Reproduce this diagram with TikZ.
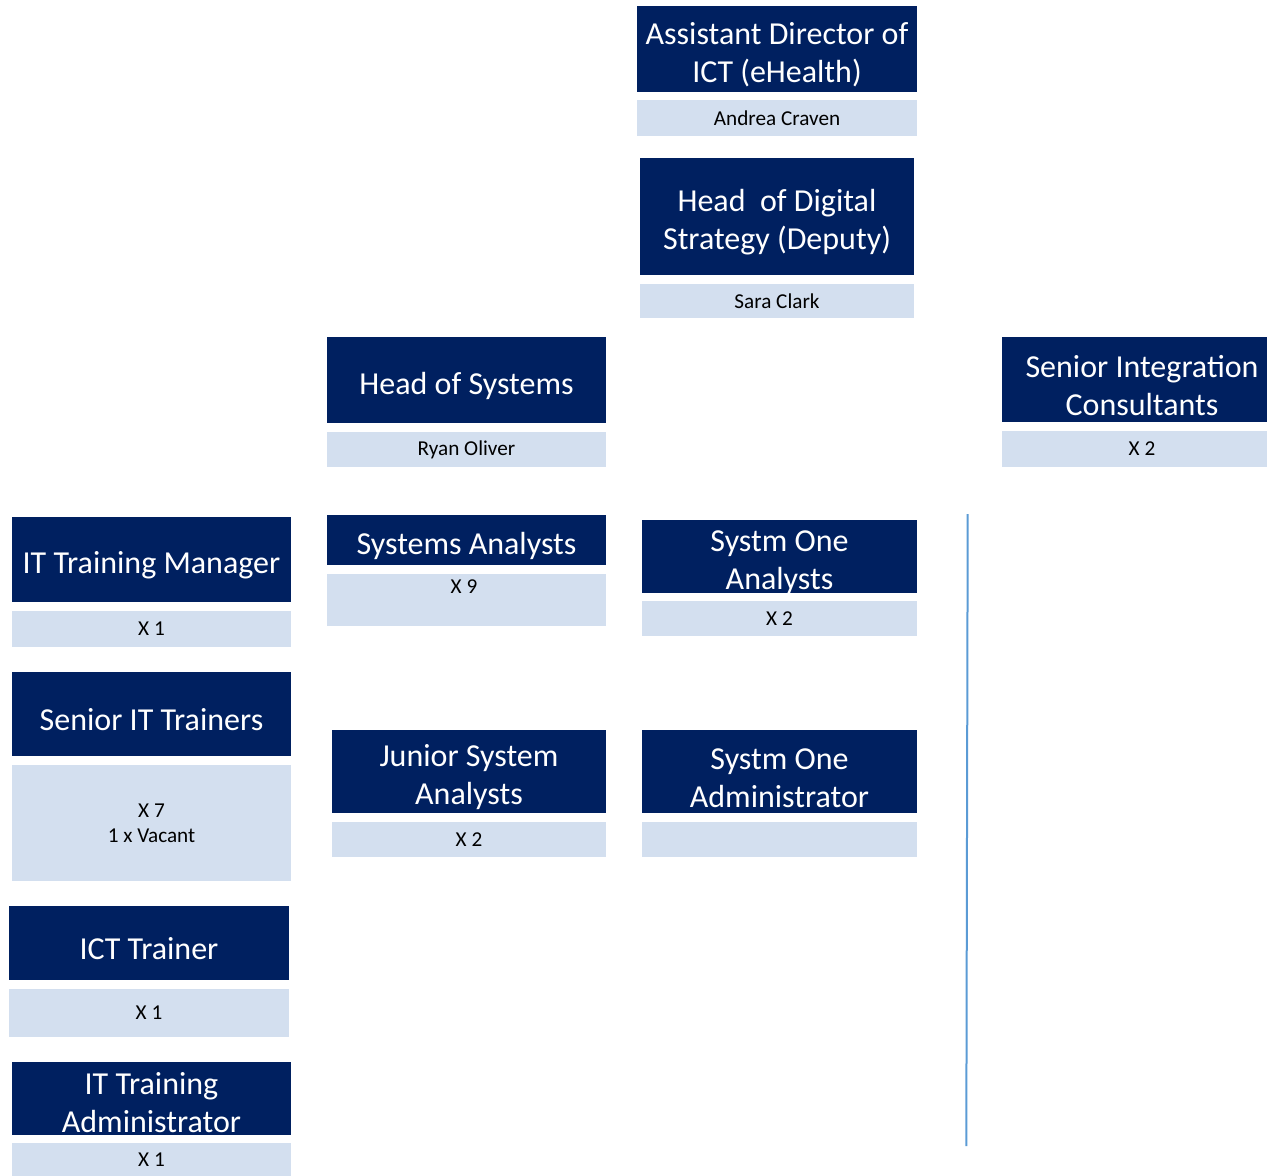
\documentclass[tikz,border=0pt]{standalone}
\usepackage{fontspec}
\setmainfont{Carlito}
\usetikzlibrary{positioning}
\definecolor{roleBlue}{RGB}{0,32,96}
\definecolor{nameBlue}{RGB}{211,223,239}
\definecolor{lineBlue}{RGB}{91,155,213}
\newcommand{\hd}[1][17pt]{\rule{0pt}{#1}}
\tikzset{
    every node/.append style={align=center},
    role/.style={rectangle,fill=roleBlue,text=white,inner sep=0pt,outer sep=0pt,
        font=\fontsize{16}{19}\selectfont},
    who/.style={rectangle,fill=nameBlue,text=black,inner sep=0pt,outer sep=0pt,
        font=\fontsize{10.6}{12.5}\selectfont},
    divider/.style={draw=lineBlue,line width=1pt}
}
\begin{document}
\begin{tikzpicture}[x=0.5pt,y=-0.5pt]
    \useasboundingbox (0,0) rectangle (1267,1176);
    % top of the tree
    \node[role,minimum width=140pt,minimum height=43pt]   (adir)  at ( 777.0,  49.0) {\hd Assistant Director of\\ICT (eHealth)};
    \node[who,minimum width=140pt,minimum height=18pt]    (adirN) at ( 777.0, 118.0) {Andrea Craven};
    \node[role,minimum width=137pt,minimum height=58.5pt] (hds)   at ( 777.0, 216.5) {\hd Head\ \ of Digital\\Strategy (Deputy)};
    \node[who,minimum width=137pt,minimum height=17pt]    (hdsN)  at ( 777.0, 301.0) {Sara Clark};
    \node[role,minimum width=139.5pt,minimum height=43pt] (hsys)  at ( 466.5, 380.0) {\hd Head of Systems};
    \node[who,minimum width=139.5pt,minimum height=17.5pt](hsysN) at ( 466.5, 449.5) {Ryan Oliver};
    \node[role,minimum width=140pt,minimum height=42.5pt] (sic)   at (1142.0, 379.5) {\hd Senior Integration\\Consultants};
    \node[who,minimum width=140pt,minimum height=18pt]    (sicN)  at (1142.0, 449.0) {X 2};

    % training column
    \node[role,minimum width=139.5pt,minimum height=42.5pt](itm)  at ( 151.5, 559.5) {\hd IT Training Manager};
    \node[who,minimum width=139.5pt,minimum height=18pt]  (itmN)  at ( 151.5, 629.0) {X 1};
    \node[role,minimum width=139.5pt,minimum height=42pt] (sitt)  at ( 151.5, 714.0) {\hd Senior IT Trainers};
    \node[who,minimum width=139.5pt,minimum height=58pt]  (sittN) at ( 151.5, 823.0) {X 7\\1 x Vacant};
    \node[role,minimum width=140pt,minimum height=37pt]   (ictt)  at ( 149.0, 943.0) {\hd ICT Trainer};
    \node[who,minimum width=140pt,minimum height=24pt]    (icttN) at ( 149.0,1013.0) {X 1};
    \node[role,minimum width=139.5pt,minimum height=36.5pt,text depth=0pt](itad) at ( 151.5,1098.5) {\hd[14.5pt]IT Training\\Administrator};
    \node[who,minimum width=139.5pt,minimum height=16.5pt](itadN) at ( 151.5,1159.5) {X 1};

    % systems columns
    \node[role,minimum width=139.5pt,minimum height=25pt] (sa)    at ( 466.5, 540.0) {\hd Systems Analysts};
    \node[who,minimum width=139.5pt,minimum height=26pt]  (saN)   at ( 466.5, 600.0) {};
    \node[who,fill=none]                                  (saX)   at ( 464.0, 587.0) {X 9};
    \node[role,minimum width=137pt,minimum height=41.5pt] (jsa)   at ( 469.0, 771.5) {\hd Junior System\\Analysts};
    \node[who,minimum width=137pt,minimum height=17.5pt]  (jsaN)  at ( 469.0, 839.5) {X 2};
    \node[role,minimum width=137.5pt,minimum height=36.5pt,text depth=0pt](soa) at ( 779.5, 556.5) {\hd[14pt]Systm One\\Analysts};
    \node[who,minimum width=137.5pt,minimum height=17.5pt](soaN)  at ( 779.5, 618.5) {X 2};
    \node[role,minimum width=137.5pt,minimum height=41.5pt](soad) at ( 779.5, 771.5) {\hd Systm One\\Administrator};
    \node[who,minimum width=137.5pt,minimum height=17.5pt](soadN) at ( 779.5, 839.5) {};

    % thin separator
    \coordinate (divTop) at (967.7, 514);
    \coordinate (divBot) at (966.3,1146);
    \draw[divider] (divTop) -- (divBot);
\end{tikzpicture}
\end{document}
